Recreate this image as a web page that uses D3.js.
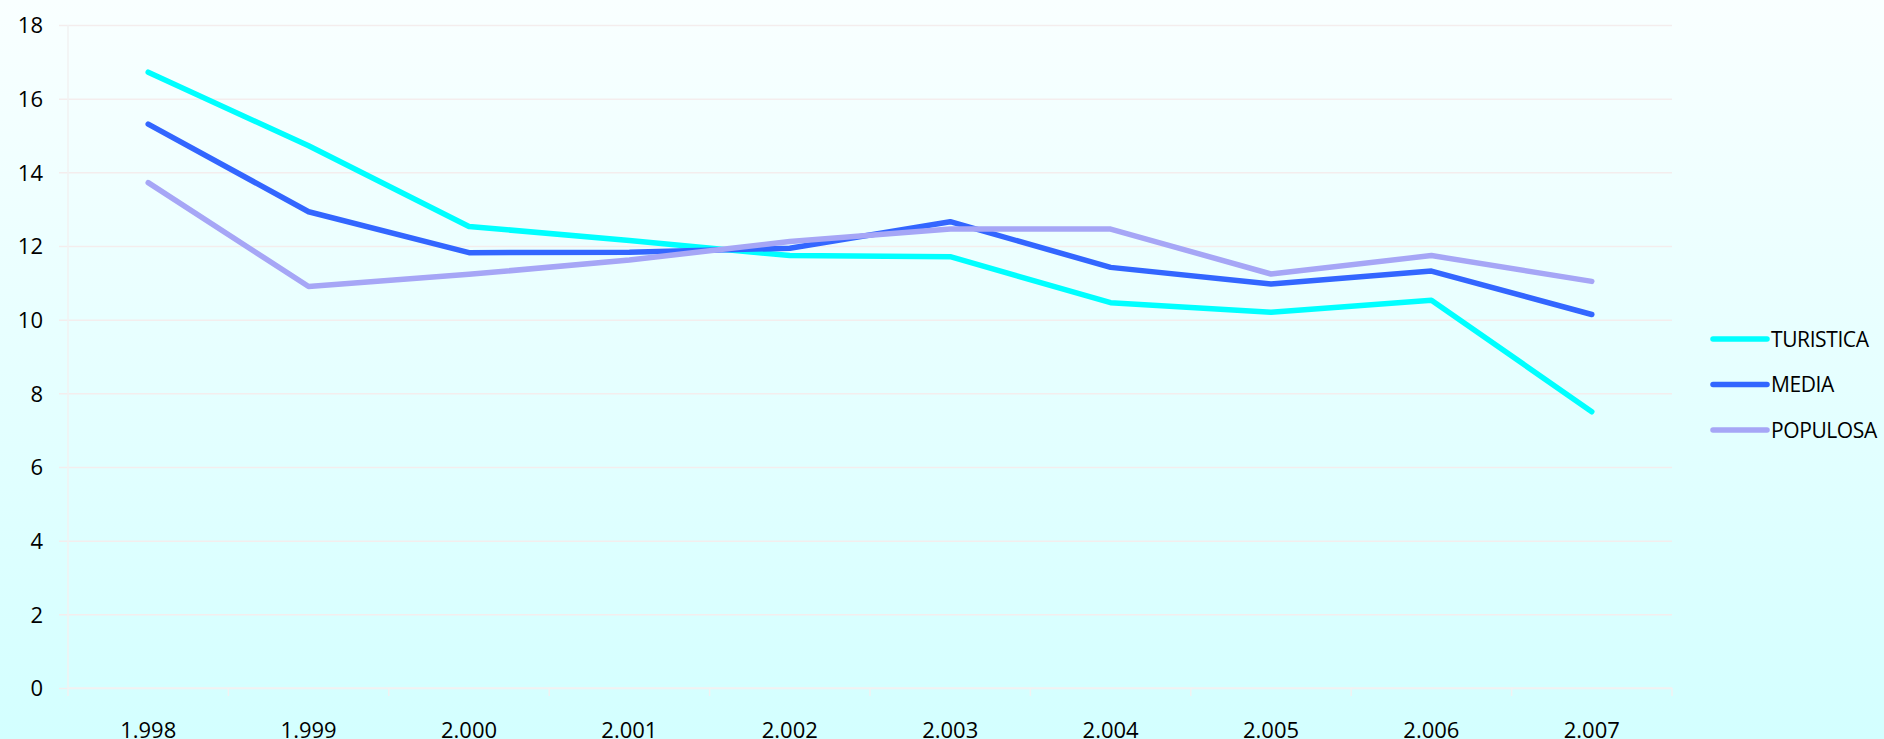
<!DOCTYPE html>
<html>
<head>
<meta charset="utf-8">
<script src="https://cdn.jsdelivr.net/npm/d3@7"></script>
<style>
	html, body { margin: 0; padding: 0; }
	body { width: 1884px; height: 739px; overflow: hidden; }
	text { font-family: "Open Sans", sans-serif; }
</style>
</head>
<body>
<svg class="chart"></svg>
<script>
// data
const years = ["1.998", "1.999", "2.000", "2.001", "2.002", "2.003", "2.004", "2.005", "2.006", "2.007"];
const turistica = [16.72, 14.72, 12.53, 12.15, 11.74, 11.71, 10.46, 10.2, 10.53, 7.5];
const media = [15.31, 12.93, 11.82, 11.83, 11.94, 12.66, 11.42, 10.97, 11.32, 10.14];
const populosa = [13.72, 10.9, 11.23, 11.62, 12.12, 12.46, 12.46, 11.24, 11.74, 11.04];
const yTicks = [0, 2, 4, 6, 8, 10, 12, 14, 16, 18];
const seriesNames = ["TURISTICA", "MEDIA", "POPULOSA"];
const seriesColors = ["#00ffff", "#3366ff", "#a6a6f6"];

var drawChart = () => {
	var width = 1884,
		height = 739,
		margin = { top: 25, right: 212, bottom: 51, left: 68 };

	var svg = d3.select(".chart").attr("width", width).attr("height", height);

	// background gradient
	var grad = svg
		.append("defs")
		.append("linearGradient")
		.attr("id", "bg")
		.attr("x1", 0)
		.attr("y1", 0)
		.attr("x2", 0)
		.attr("y2", 1);
	grad.append("stop").attr("offset", "0%").attr("stop-color", "#f9ffff");
	grad.append("stop").attr("offset", "100%").attr("stop-color", "#d3ffff");
	svg.append("rect").attr("width", width).attr("height", height).attr("fill", "url(#bg)");

	let x = d3
		.scaleBand()
		.domain(years)
		.range([margin.left, width - margin.right]);

	let y = d3
		.scaleLinear()
		.domain([0, 18])
		.range([height - margin.bottom, margin.top]);

	// gridlines
	svg
		.append("g")
		.attr("transform", `translate(${margin.left - 9},0)`)
		.call(d3.axisLeft(y).tickValues(yTicks).tickSize(-(width - margin.right - margin.left + 9)).tickFormat(""))
		.call((g) => g.select(".domain").remove())
		.call((g) => g.selectAll(".tick line").attr("stroke", "#f4eded").attr("stroke-width", 1.5));

	// y axis line
	svg
		.append("line")
		.attr("x1", margin.left)
		.attr("x2", margin.left)
		.attr("y1", y(18))
		.attr("y2", y(0))
		.attr("stroke", "#f2f2f2")
		.attr("stroke-width", 1.5);

	// y labels
	svg
		.append("g")
		.attr("transform", `translate(${margin.left},0)`)
		.call(d3.axisLeft(y).tickValues(yTicks).tickSize(0).tickPadding(25))
		.call((g) => g.select(".domain").remove())
		.call((g) => g.selectAll("text").attr("font-size", 22).attr("fill", "#000").attr("dy", "0.36em"));

	// x axis with ticks between categories
	var xAxisG = svg.append("g").attr("transform", `translate(0,${y(0)})`);
	xAxisG
		.append("line")
		.attr("x1", margin.left)
		.attr("x2", width - margin.right)
		.attr("stroke", "#f2f2f2")
		.attr("stroke-width", 1.5);
	xAxisG
		.selectAll(".bound")
		.data(years.concat(["end"]))
		.join("line")
		.attr("class", "bound")
		.attr("x1", (d) => (d === "end" ? x.range()[1] : x(d)))
		.attr("x2", (d) => (d === "end" ? x.range()[1] : x(d)))
		.attr("y1", 0)
		.attr("y2", 8)
		.attr("stroke", "#f2f2f2")
		.attr("stroke-width", 1.5);
	// labels sit low, partly cut by the bottom edge as in the original
	xAxisG
		.call(d3.axisBottom(x).tickSize(0).tickPadding(34))
		.call((g) => g.select(".domain").remove())
		.call((g) => g.selectAll("text").attr("font-size", 22).attr("fill", "#000").attr("font-family", "Open Sans"));

	let line = d3
		.line()
		.x((d, i) => x(years[i]) + x.bandwidth() / 2)
		.y((d) => y(d));

	var allSeries = [turistica, media, populosa];
	allSeries.forEach((s, i) => {
		svg
			.append("path")
			.attr("d", line(s))
			.attr("fill", "none")
			.attr("stroke", seriesColors[i])
			.attr("stroke-width", 5.5)
			.attr("stroke-linejoin", "round")
			.attr("stroke-linecap", "round");
	});

	// legend
	var legend = svg
		.append("g")
		.selectAll("g")
		.data(seriesNames)
		.join("g")
		.attr("transform", (d, i) => `translate(1713,${339 + i * 45.5})`);
	legend
		.append("line")
		.attr("x1", 0)
		.attr("x2", 54)
		.attr("stroke", (d, i) => seriesColors[i])
		.attr("stroke-width", 5.5)
		.attr("stroke-linecap", "round");
	legend
		.append("text")
		.attr("x", 58)
		.attr("dy", "0.36em")
		.attr("font-size", 21)
		.attr("letter-spacing", "-0.4")
		.attr("fill", "#000")
		.text((d) => d);
};

drawChart();
</script>
</body>
</html>
